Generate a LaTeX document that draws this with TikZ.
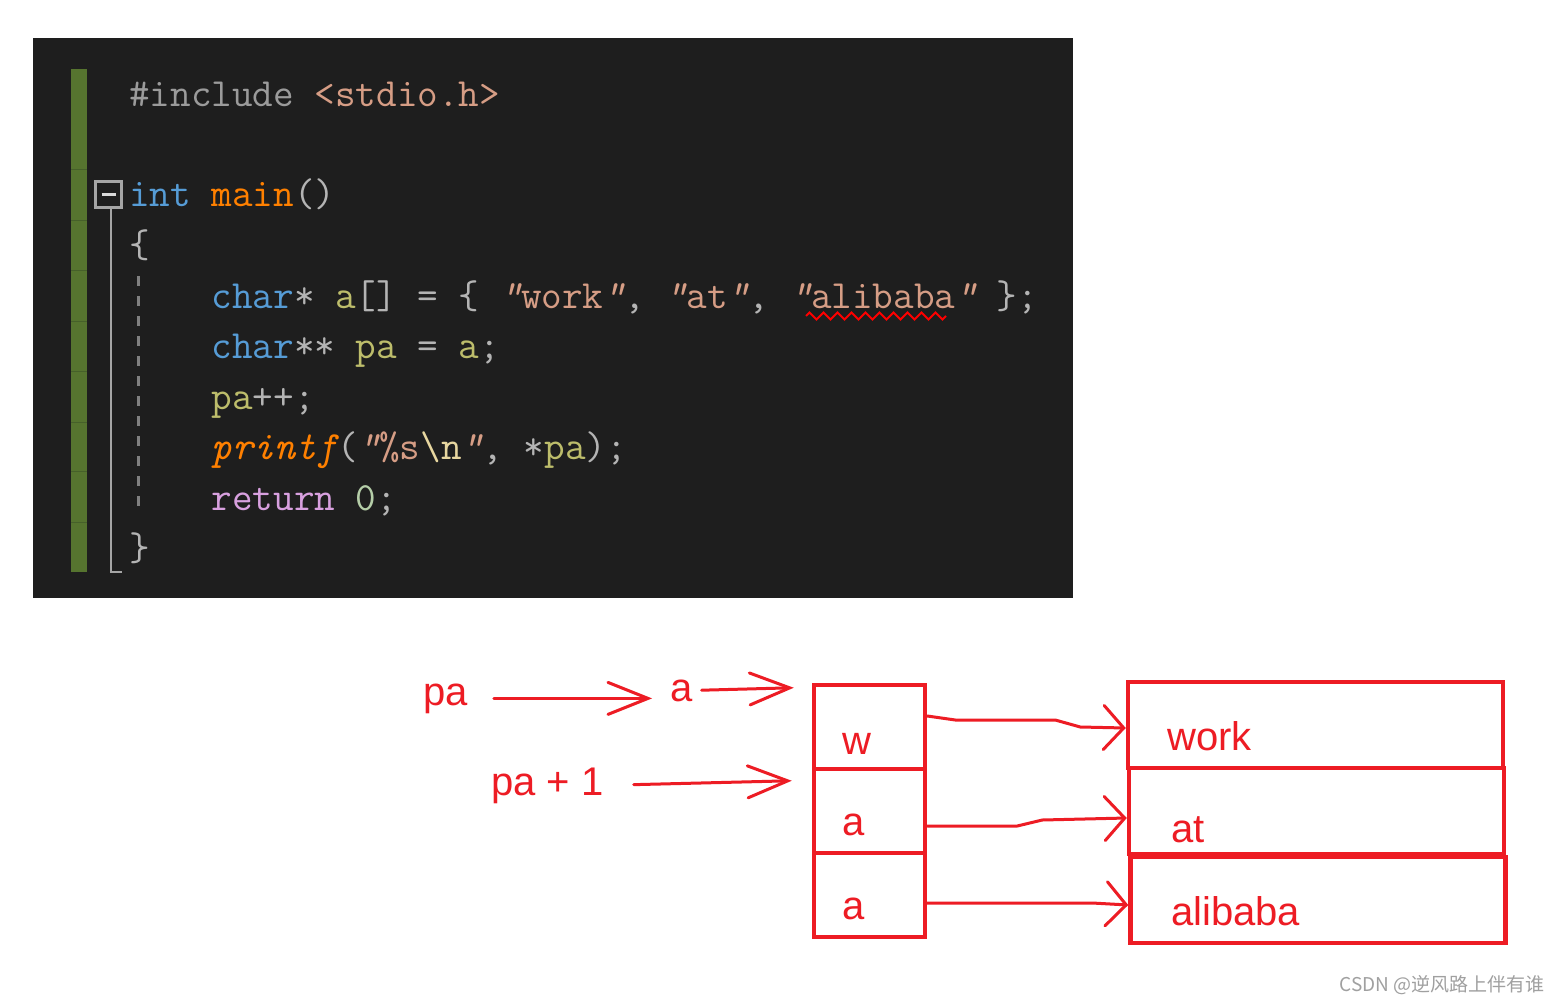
\documentclass[tikz,border=0pt]{standalone}
\usepackage{fontspec}
\setsansfont{Liberation Sans}
\newfontfamily\cjkfont{Noto Sans CJK SC}
\usetikzlibrary{arrows.meta}
\usetikzlibrary{decorations.pathmorphing}
\usepackage{xcolor}
\definecolor{vsbg}{HTML}{1E1E1E}
\definecolor{gutter}{HTML}{56742F}
\definecolor{gutterdark}{HTML}{46602A}
\definecolor{foldgray}{HTML}{A5A5A5}
\definecolor{pp}{HTML}{9B9B9B}
\definecolor{str}{HTML}{D69D85}
\definecolor{kw}{HTML}{569CD6}
\definecolor{fn}{HTML}{FF8000}
\definecolor{op}{HTML}{B4B4B4}
\definecolor{var}{HTML}{BDBD6B}
\definecolor{esc}{HTML}{E8D7A0}
\definecolor{ret}{HTML}{D8A0DF}
\definecolor{num}{HTML}{B5CEA8}
\definecolor{inkred}{HTML}{ED1C24}
\definecolor{wmark}{HTML}{A0A0A0}
\newcommand{\tc}[2]{\textcolor{#1}{#2}}
\newcommand{\dq}{{\itshape"}}

\begin{document}
\begin{tikzpicture}[x=1pt,y=-1pt,
  codeline/.style={anchor=base west,inner sep=0pt,
                   font=\fontsize{40}{40}\selectfont\ttfamily},
  cell/.style={draw=inkred,line width=4.5pt,minimum width=111pt,
               minimum height=84pt,inner sep=0pt},
  strbox/.style={draw=inkred,line width=4.5pt,minimum width=375pt,
                 minimum height=86pt,inner sep=0pt},
  inktext/.style={anchor=base west,text=inkred,inner sep=0pt,
                  font=\fontsize{40}{40}\selectfont\sffamily},
  scribble/.style={draw=inkred,line width=3pt,line cap=round,line join=round},
  ptrhead/.style={-{Straight Barb[length=40pt,width=32pt,line cap=round]}},
  boxhead/.style={-{Straight Barb[length=20pt,width=44pt,line cap=round]}}]

  \useasboundingbox (0,0) rectangle (1563,1004);
  \fill[white] (0,0) rectangle (1563,1004);

  % ===== editor panel =====
  \fill[vsbg] (33,38) rectangle (1073,598);
  \fill[gutter] (71,69) rectangle (87,572);
  \foreach \y in {169,220,270,321,371,422,471,522}
    \draw[gutterdark,line width=1pt] (71,\y)--(87,\y);

  % fold marker and block guides
  \draw[foldgray,line width=2pt] (110.5,208)--(110.5,572)--(122,572);
  \draw[foldgray,line width=2.2pt] (95.5,181.5) rectangle (121.5,207.5);
  \draw[white!85!black,line width=2.5pt] (101.5,194.5)--(115.5,194.5);
  \draw[gray,line width=3pt,dash pattern=on 10pt off 10pt] (138,276)--(138,516);

  % ===== code lines =====
  \node[codeline] (l1) at (129,106) {\tc{pp}{\#include} \tc{str}{<stdio.h>}};
  \node[codeline] (l3) at (129,206) {\tc{kw}{int} \tc{fn}{main}\tc{op}{()}};
  \node[codeline] (l4) at (129,257) {\tc{op}{\{}};
  \node[codeline] (l5) at (129,308) {~~~~\tc{kw}{char}\tc{op}{*} \tc{var}{a}\tc{op}{[] = \{}
     \tc{str}{\dq work\dq}\tc{op}{,} \tc{str}{\dq at\dq}\tc{op}{,} \tc{str}{\dq alibaba\dq}
     \tc{op}{\};}};
  \node[codeline] (l6) at (129,358) {~~~~\tc{kw}{char}\tc{op}{**} \tc{var}{pa} \tc{op}{=}
     \tc{var}{a}\tc{op}{;}};
  \node[codeline] (l7) at (129,409) {~~~~\tc{var}{pa}\tc{op}{++;}};
  \node[codeline] (l8) at (129,459) {~~~~\tc{fn}{\itshape printf}\tc{op}{(}\tc{str}{\dq\%s}%
     \tc{esc}{\textbackslash n}\tc{str}{\dq}\tc{op}{,} \tc{op}{*}\tc{var}{pa}\tc{op}{);}};
  \node[codeline] (l9) at (129,510) {~~~~\tc{ret}{return} \tc{num}{0}\tc{op}{;}};
  \node[codeline] (l10) at (129,560) {\tc{op}{\}}};

  % squiggle under alibaba
  \draw[red,line width=2pt,decorate,
        decoration={zigzag,segment length=14pt,amplitude=3.5pt}] (806,316)--(946,316);

  % ===== pointer array cells =====
  \node[cell] (w)  at (869.5,727) {};
  \node[cell] (a2) at (869.5,811) {};
  \node[cell] (a3) at (869.5,895) {};
  \node[inktext] (wlbl)  at (842,754) {w};
  \node[inktext] (a2lbl) at (842,835) {a};
  \node[inktext] (a3lbl) at (842,919) {a};

  % ===== string boxes =====
  \node[strbox] (work) at (1315.5,725) {};
  \node[strbox] (at)   at (1316.5,811) {};
  \node[strbox] (ali)  at (1318,900) {};
  \node[inktext] (worklbl) at (1167,750) {work};
  \node[inktext] (atlbl)   at (1171,842) {at};
  \node[inktext] (alilbl)  at (1171,925) {alibaba};

  % ===== pointer labels =====
  \node[inktext] (pa)  at (423,705) {pa};
  \node[inktext] (aa)  at (670,701) {a};
  \node[inktext] (pp1) at (491,795) {pa + 1};

  \coordinate (t1) at ([xshift=-18pt,yshift=-5pt]w.north west);
  \coordinate (t2) at ([xshift=-20pt,yshift=-14pt]a2.north west);

  % ===== hand drawn arrows =====
  \draw[scribble,ptrhead,shorten <=26pt,shorten >=18pt] (pa.east)--(pa.east -| aa.west);
  \draw[scribble,ptrhead,shorten <=9pt] (aa.east)--(t1);
  \draw[scribble,ptrhead,shorten <=30pt] (pp1.east)--(t2);

  \draw[scribble,boxhead] ([yshift=11pt]w.east)--++(28,4)--++(100,0)--++(25,7)
     --([yshift=-3pt]work.west);
  \draw[scribble,boxhead] ([yshift=-15pt]a2.east)--++(90,0)--++(25,-6)
     --([yshift=-7pt]at.west);
  \draw[scribble,boxhead] ([yshift=-8pt]a3.east)--++(165,0)--([yshift=-5pt]ali.west);

  % ===== watermark =====
  \node[text=wmark,font=\fontsize{19}{19}\selectfont\cjkfont] (mark) at (1442,985)
     {CSDN @逆风路上伴有谁};

\end{tikzpicture}
\end{document}
